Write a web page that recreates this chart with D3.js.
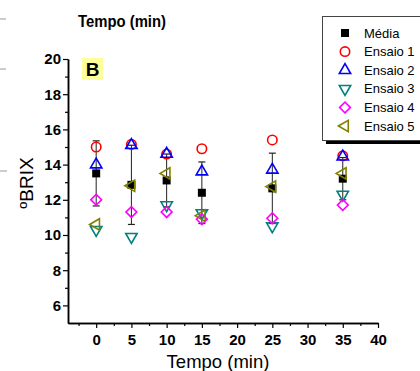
<!DOCTYPE html>
<html>
<head>
<meta charset="utf-8">
<script src="https://cdn.jsdelivr.net/npm/d3@7"></script>
<style>
  body { margin: 0; background: #fff; }
  svg { display: block; font-family: "Liberation Sans", Arial, sans-serif; }
</style>
</head>
<body>
<div id="chart"></div>
<script>
// tempo (min) e leituras de ºBRIX
var times = [0, 5, 10, 15, 25, 35]
var media = [13.5, 12.85, 13.1, 12.4, 12.65, 13.2]
var desvio = [1.85, 2.25, 1.5, 1.75, 2.0, 1.2]
var ensaio1 = [15.0, 15.15, 14.6, 14.9, 15.4, 14.5]
var ensaio2 = [14.0, 15.1, 14.6, 13.6, 13.7, 14.45]
var ensaio3 = [10.3, 9.9, 11.7, 11.25, 10.5, 12.3]
var ensaio4 = [12.0, 11.3, 11.3, 10.9, 10.95, 11.7]
var ensaio5 = [10.6, 12.8, 13.5, 11.1, 12.75, 13.5]

var xTicks = [0, 5, 10, 15, 20, 25, 30, 35, 40]
var yTicks = [6, 8, 10, 12, 14, 16, 18, 20]

var seriesNames = ['Média', 'Ensaio 1', 'Ensaio 2', 'Ensaio 3', 'Ensaio 4', 'Ensaio 5']
var seriesValues = [media, ensaio1, ensaio2, ensaio3, ensaio4, ensaio5]

var width = 420, height = 371

var svg = d3.select('#chart').append('svg')
  .attr('width', width)
  .attr('height', height)

var x = d3.scaleLinear().domain([-4, 40]).range([68, 378])
var y = d3.scaleLinear().domain([5, 20]).range([323, 59])

// bits of the neighbouring panel left at the crop edge
var edgeLines = [[19, 6], [69, 6], [171, 7]]
svg.selectAll('.edge').data(edgeLines).enter().append('line')
  .attr('x1', 0).attr('x2', d => d[1])
  .attr('y1', d => d[0]).attr('y2', d => d[0])
  .attr('stroke', '#999').attr('stroke-width', 1)

// marker styles
var styles = [
  { type: d3.symbolSquare, size: 64, rot: 0, color: '#000', fill: '#000' },
  { type: d3.symbolCircle, size: 70, rot: 0, color: '#ff0000', fill: 'none' },
  { type: d3.symbolTriangle, size: 56, rot: 0, color: '#0000ff', fill: 'none' },
  { type: d3.symbolTriangle, size: 56, rot: 180, color: '#008080', fill: 'none' },
  { type: d3.symbolSquare, size: 58, rot: 45, color: '#ff00ff', fill: 'none' },
  { type: d3.symbolTriangle, size: 56, rot: -90, color: '#808000', fill: 'none' }
]

// axes
var xAxis = d3.axisBottom(x).tickValues(xTicks).tickSize(5).tickSizeOuter(0).tickPadding(6)
var xMinor = d3.axisBottom(x).tickValues(d3.range(-2.5, 40, 5)).tickSize(3).tickFormat('').tickSizeOuter(0)
var yAxis = d3.axisLeft(y).tickValues(yTicks).tickSize(5).tickSizeOuter(0).tickPadding(2)
var yMinor = d3.axisLeft(y).tickValues(d3.range(7, 20, 2)).tickSize(3).tickFormat('').tickSizeOuter(0)

function styleAxis(g) {
  g.selectAll('path').attr('stroke', '#000').attr('stroke-width', 1.5)
  g.selectAll('line').attr('stroke', '#000').attr('stroke-width', 1.2)
  g.selectAll('text')
    .attr('fill', '#000')
    .style('font-size', '15px')
    .style('font-weight', 'bold')
    .style('font-family', '"Liberation Sans", Arial, sans-serif')
}

svg.append('g').attr('transform', 'translate(0,' + y(5) + ')').call(xMinor).call(styleAxis)
svg.append('g').attr('transform', 'translate(0,' + y(5) + ')').call(xAxis).call(styleAxis)
svg.append('g').attr('transform', 'translate(' + x(-4) + ',0)').call(yMinor).call(styleAxis)
svg.append('g').attr('transform', 'translate(' + x(-4) + ',0)').call(yAxis).call(styleAxis)

// error bars of the mean
var eb = svg.append('g').attr('class', 'errorbars')
times.forEach(function (t, i) {
  var top = y(media[i] + desvio[i]), bot = y(media[i] - desvio[i])
  eb.append('line').attr('x1', x(t)).attr('x2', x(t)).attr('y1', top).attr('y2', bot)
    .attr('stroke', '#222').attr('stroke-width', 1)
  ;[top, bot].forEach(function (yy) {
    eb.append('line').attr('x1', x(t) - 3.5).attr('x2', x(t) + 3.5).attr('y1', yy).attr('y2', yy)
      .attr('stroke', '#222').attr('stroke-width', 1.2)
  })
})

// markers
seriesValues.forEach(function (vals, s) {
  var st = styles[s]
  var sym = d3.symbol().type(st.type).size(st.size)
  svg.append('g').selectAll('path')
    .data(vals)
    .enter().append('path')
    .attr('d', sym)
    .attr('transform', (d, i) => 'translate(' + x(times[i]) + ',' + y(d) + ') rotate(' + st.rot + ')')
    .attr('fill', st.fill)
    .attr('stroke', st.color)
    .attr('stroke-width', s == 0 ? 0 : 1.6)
})

// panel label
svg.append('rect').attr('x', 82).attr('y', 58).attr('width', 21).attr('height', 22).attr('fill', '#ffff99')
svg.append('text').attr('x', 92.5).attr('y', 76).attr('text-anchor', 'middle')
  .style('font-size', '19px').style('font-weight', 'bold').text('B')

// titles
svg.append('text').attr('x', 78).attr('y', 27)
  .attr('textLength', 88).attr('lengthAdjust', 'spacingAndGlyphs')
  .style('font-size', '16px').style('font-weight', 'bold').text('Tempo (min)')

svg.append('text').attr('x', 218).attr('y', 368).attr('text-anchor', 'middle')
  .style('font-size', '18.5px').text('Tempo (min)')

svg.append('text').attr('transform', 'translate(33,183) rotate(-90)').attr('text-anchor', 'middle')
  .style('font-size', '19px').text('ºBRIX')

// legend
var legend = svg.append('g').attr('class', 'legend')
legend.append('rect').attr('x', 326).attr('y', 20).attr('width', 110).attr('height', 124).attr('fill', '#000')
legend.append('rect').attr('x', 322.5).attr('y', 16.5).attr('width', 110).attr('height', 124)
  .attr('fill', '#fff').attr('stroke', '#444').attr('stroke-width', 1)

seriesNames.forEach(function (name, s) {
  var st = styles[s]
  var ly = 33 + s * 18.6
  legend.append('path')
    .attr('d', d3.symbol().type(st.type).size(st.size)())
    .attr('transform', 'translate(345,' + ly + ') rotate(' + st.rot + ')')
    .attr('fill', st.fill).attr('stroke', st.color).attr('stroke-width', s == 0 ? 0 : 1.6)
  legend.append('text').attr('x', 364).attr('y', ly + 4.5)
    .style('font-size', '13px').text(name)
})
</script>
</body>
</html>
